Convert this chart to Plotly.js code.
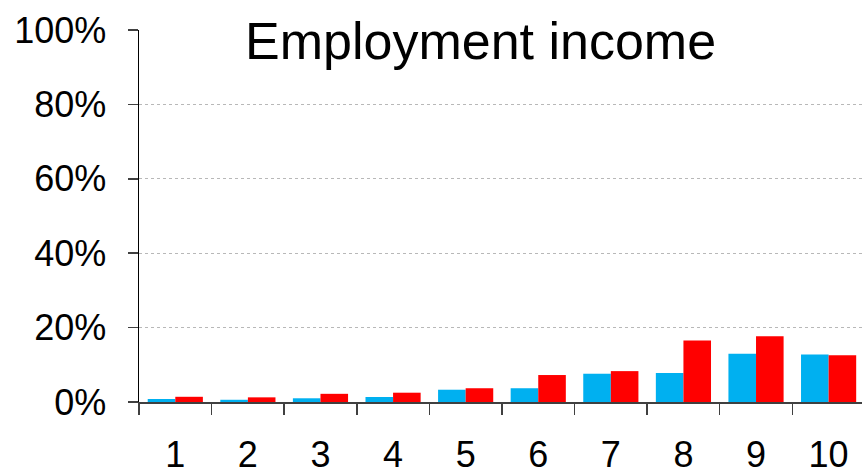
<!DOCTYPE html>
<html>
<head>
<meta charset="utf-8">
<script src="https://cdn.plot.ly/plotly-3.0.1.min.js"></script>
<style>html,body{margin:0;padding:0;background:#fff;}#chart{width:862px;height:474px;}</style>
</head>
<body>
<div id="chart"></div>
<script>
const categories = ["1","2","3","4","5","6","7","8","9","10"];
const seriesA = [0.8, 0.6, 1.0, 1.35, 3.3, 3.7, 7.6, 7.8, 13.0, 12.8];
const seriesB = [1.4, 1.25, 2.2, 2.5, 3.7, 7.25, 8.3, 16.5, 17.7, 12.55];
const yTicks = [0, 20, 40, 60, 80, 100];
const titleText = "Employment income";

const font = "Liberation Sans, Arial, sans-serif";
const data = [
  {type:"bar", x:categories, y:seriesA, marker:{color:"#00B0F0"}, hoverinfo:"none"},
  {type:"bar", x:categories, y:seriesB, marker:{color:"#FF0000"}, hoverinfo:"none"}
];
const layout = {
  width:862, height:474,
  margin:{l:139, r:0, t:30, b:72, pad:0},
  paper_bgcolor:"#fff", plot_bgcolor:"#fff",
  showlegend:false,
  barmode:"group", bargap:0.24, bargroupgap:0,
  font:{family:font, size:36, color:"#000"},
  xaxis:{
    type:"category", range:[-0.5, 9.46],
    showline:true, linecolor:"#404040", linewidth:1.5,
    ticks:"outside", tickson:"boundaries", ticklen:11, tickcolor:"#404040", tickwidth:1.5,
    showgrid:false, zeroline:false,
    tickfont:{family:font, size:36, color:"#000"},
    ticklabelstandoff:20
  },
  yaxis:{
    range:[0,100], tickvals:yTicks, ticktext:yTicks.map(v=>v+"%"),
    showline:true, linecolor:"#000", linewidth:1.5,
    ticks:"outside", ticklen:10, tickcolor:"#404040", tickwidth:1.5,
    showgrid:true, gridcolor:"#b8b8b8", gridwidth:1, griddash:"dot",
    zeroline:false,
    tickfont:{family:font, size:36, color:"#000"},
    ticklabelstandoff:14
  },
  annotations:[{
    text:titleText, xref:"paper", yref:"paper", x:(480-139)/723, y:1.0 - 11/372,
    xanchor:"center", yanchor:"middle", showarrow:false,
    font:{family:font, size:52, color:"#000"},
    bgcolor:"#fff", borderpad:6
  }]
};
Plotly.newPlot("chart", data, layout, {staticPlot:true});
</script>
</body>
</html>
